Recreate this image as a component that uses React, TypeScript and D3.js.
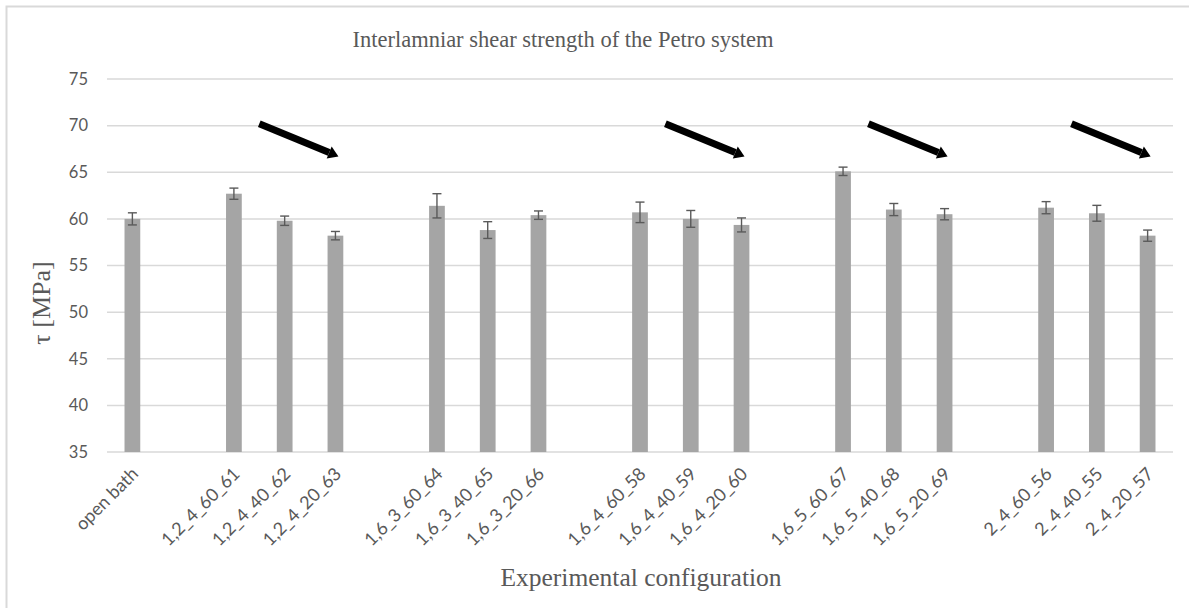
import React from 'react';
import * as d3 from 'd3';

// configurations, grouped as in the figure (a blank slot sits between groups)
const groups = [
  ['open bath'],
  ['1,2_4_60_61', '1,2_4_40_62', '1,2_4_20_63'],
  ['1,6_3_60_64', '1,6_3_40_65', '1,6_3_20_66'],
  ['1,6_4_60_58', '1,6_4_40_59', '1,6_4_20_60'],
  ['1,6_5_60_67', '1,6_5_40_68', '1,6_5_20_69'],
  ['2_4_60_56', '2_4_40_55', '2_4_20_57'],
];

const categories = groups.flat();
const means = [60.0, 62.7, 59.8, 58.2, 61.4, 58.8, 60.4, 60.7, 60.0, 59.35, 65.1, 61.0, 60.5, 61.2, 60.6, 58.2];
const errors = [0.65, 0.6, 0.5, 0.45, 1.3, 0.9, 0.45, 1.1, 0.9, 0.75, 0.45, 0.65, 0.6, 0.65, 0.85, 0.6];

const yTicks = [35, 40, 45, 50, 55, 60, 65, 70, 75];

// decreasing-trend arrows drawn over some groups (values in MPa)
const trendArrows = [
  { from: '1,2_4_60_61', to: '1,2_4_20_63', start: 70.2, end: 66.7 },
  { from: '1,6_4_60_58', to: '1,6_4_20_60', start: 70.2, end: 66.7 },
  { from: '1,6_5_60_67', to: '1,6_5_20_69', start: 70.2, end: 66.7 },
  { from: '2_4_60_56', to: '2_4_20_57', start: 70.2, end: 66.7 },
];

const W = 1189;
const H = 608;
const left = 107;
const right = 1173;
const top = 79;
const bottom = 452;

const gridColor = '#d9d9d9';
const textColor = '#595959';
const barColor = '#a5a5a5';
const serif = '"Liberation Serif", "Times New Roman", serif';
const sans = 'Lato, "Open Sans", sans-serif';

// slot list with gap keys between the groups
const slots: string[] = [];
groups.forEach((g, i) => {
  if (i > 0) slots.push(`gap${i}`);
  g.forEach(c => slots.push(c));
});

const App = () => {
  const x = d3.scaleBand<string>()
    .domain(slots)
    .range([left, right])
    .paddingInner(0.69)
    .paddingOuter(0.345);

  const y = d3.scaleLinear().domain([35, 75]).range([bottom, top]);

  const bw = x.bandwidth();
  const cx = (c: string) => (x(c) ?? 0) + bw / 2;
  const capHalf = 4.5;

  return (
    <>
      <style>{'body{margin:0}'}</style>
      <svg width={W} height={H} style={{ display: 'block', background: '#fff' }}>
        {/* outer frame */}
        <rect x={6.5} y={6.5} width={W + 20} height={H + 20} fill="none" stroke={gridColor} strokeWidth={2} />

        {/* title */}
        <text x={563} y={47} textAnchor="middle" fontFamily={serif} fontSize={22.5} fill={textColor}>
          Interlamniar shear strength of the Petro system
        </text>

        {/* gridlines + y ticks */}
        {yTicks.map(t => (
          <g key={t}>
            <line x1={left} x2={right} y1={y(t)} y2={y(t)} stroke={gridColor} strokeWidth={1.5} />
            <text x={88} y={y(t)} dy="0.35em" textAnchor="end" fontFamily={sans} fontSize={16.5} fill={textColor}>
              {t}
            </text>
          </g>
        ))}

        {/* bars */}
        {categories.map((c, i) => (
          <rect key={c} x={x(c)} y={y(means[i])} width={bw} height={y(35) - y(means[i])} fill={barColor} />
        ))}

        {/* error bars */}
        {categories.map((c, i) => {
          const xc = cx(c);
          const y1 = y(means[i] + errors[i]);
          const y2 = y(means[i] - errors[i]);
          return (
            <g key={c} stroke="#5a5a5a" strokeWidth={1.4}>
              <line x1={xc} x2={xc} y1={y1} y2={y2} />
              <line x1={xc - capHalf} x2={xc + capHalf} y1={y1} y2={y1} />
              <line x1={xc - capHalf} x2={xc + capHalf} y1={y2} y2={y2} />
            </g>
          );
        })}

        {/* x tick labels */}
        {categories.map(c => {
          const xc = cx(c) + 7;
          const yc = bottom + 23;
          return (
            <text
              key={c}
              x={xc}
              y={yc}
              textAnchor="end"
              transform={`rotate(-45,${xc},${yc})`}
              fontFamily={sans}
              fontSize={18}
              fill={textColor}
            >
              {c}
            </text>
          );
        })}

        {/* trend arrows */}
        {trendArrows.map(a => {
          const x1 = cx(a.from) + x.step() * 0.5;
          const x2 = cx(a.to) + 3;
          const y1 = y(a.start);
          const y2 = y(a.end);
          const len = Math.hypot(x2 - x1, y2 - y1);
          const ux = (x2 - x1) / len;
          const uy = (y2 - y1) / len;
          const hl = 10;
          const hw = 6.5;
          const bx = x2 - ux * hl;
          const by = y2 - uy * hl;
          const head = [
            [x2, y2],
            [bx - uy * hw, by + ux * hw],
            [bx + uy * hw, by - ux * hw],
          ];
          return (
            <g key={a.from}>
              <line x1={x1} y1={y1} x2={bx} y2={by} stroke="#000" strokeWidth={7} />
              <polygon points={head.map(p => p.join(',')).join(' ')} fill="#000" />
            </g>
          );
        })}

        {/* axis titles */}
        <text
          x={50}
          y={303}
          textAnchor="middle"
          transform="rotate(-90,50,303)"
          fontFamily={serif}
          fontSize={26}
          fill={textColor}
        >
          τ [MPa]
        </text>
        <text x={641} y={586} textAnchor="middle" fontFamily={serif} fontSize={25.5} fill={textColor}>
          Experimental configuration
        </text>
      </svg>
    </>
  );
};

export default App;
